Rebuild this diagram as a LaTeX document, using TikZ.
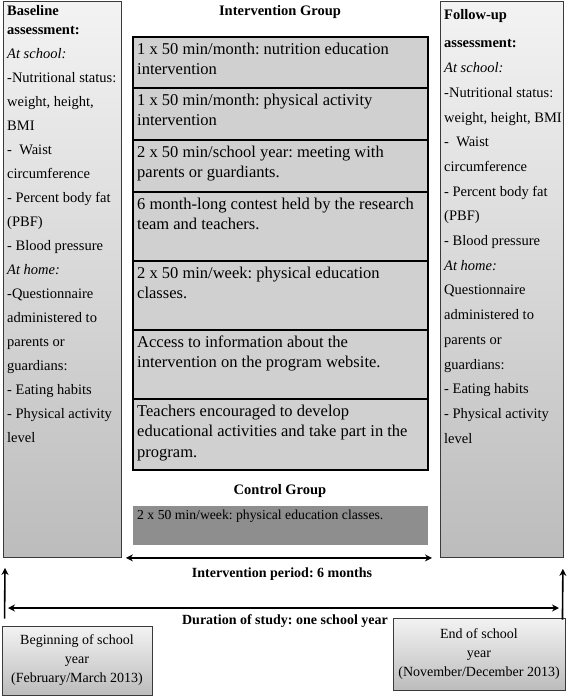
\documentclass[tikz,border=0pt]{standalone}
\usepackage{fontspec}
\setmainfont{Liberation Serif}
\usetikzlibrary{arrows.meta}
\definecolor{rowfill}{HTML}{D0D0D0}
\definecolor{ctrlfill}{HTML}{8E8E8E}
\definecolor{sidetop}{HTML}{F3F3F3}
\definecolor{sidebot}{HTML}{BCBCBC}
\definecolor{sideline}{HTML}{3A3A3A}

\begin{document}
\frenchspacing
\begin{tikzpicture}[x=1pt, y=-1pt,
  side/.style={draw=sideline, line width=0.9pt, top color=sidetop, bottom color=sidebot,
    anchor=north west, minimum width=118pt, minimum height=556pt, inner sep=0pt},
  sidetext/.style={anchor=north west, align=left, inner sep=4pt,
    font=\fontsize{14.5}{24}\selectfont},
  rowbox/.style={draw=black, line width=1.1pt, fill=rowfill},
  rowtext/.style={anchor=north west, align=left, inner xsep=4pt, inner ysep=5.5pt,
    font=\fontsize{16.5}{20.5}\selectfont},
  datebox/.style={draw=sideline, line width=0.9pt, top color=sidetop, bottom color=sidebot,
    align=center, inner sep=2pt, font=\fontsize{14}{19}\selectfont},
  head/.style={font=\fontsize{14}{15}\selectfont\bfseries},
  span/.style={{Stealth[length=7pt,width=7pt]}-{Stealth[length=7pt,width=7pt]}, line width=1.6pt},
  up/.style={-{Stealth[length=7pt,width=7pt]}, line width=1.6pt}]
\useasboundingbox (0,0) rectangle (567,697);
\newcommand{\introw}[4]{%
  \draw[rowbox] (133,#2) rectangle (428,#3);
  \node[rowtext] (#1) at (133,#2) {#4};}
% assessment columns
\node[side] (base) at (3,1) {};
\node[sidetext] (basetxt) at (base.north west) {\textbf{Baseline}\\[-5pt]
  \textbf{assessment:}\\ \textit{At school:}\\ -Nutritional status:\\ weight, height,\\ BMI\\
  -\ \ Waist\\ circumference\\ - Percent body fat\\ (PBF)\\ - Blood pressure\\
  \textit{At home:}\\ -Questionnaire\\ administered to\\ parents or\\ guardians:\\
  - Eating habits\\ - Physical activity\\ level};
\node[side, minimum width=123pt] (follow) at (440,1) {};
\node[sidetext, font=\fontsize{14.5}{24.7}\selectfont] (followtxt) at ([yshift=-4pt]follow.north west)
  {\textbf{Follow-up}\\[4pt] \textbf{assessment:}\\ \textit{At school:}\\ -Nutritional status:\\
  weight, height, BMI\\ -\ \ Waist\\ circumference\\ - Percent body fat\\ (PBF)\\
  - Blood pressure\\ \textit{At home:}\\ Questionnaire\\ administered to\\ parents or\\
  guardians:\\ - Eating habits\\ - Physical activity\\ level};
% intervention group
\node[head, font=\fontsize{14.5}{15}\selectfont\bfseries] (intgrp) at (280,12) {Intervention Group};
\introw{nutr}{37}{88}{1 x 50 min/month: nutrition education\\ intervention}
\introw{phys}{88}{140}{1 x 50 min/month: physical activity\\ intervention}
\introw{meet}{140}{192}{2 x 50 min/school year: meeting with\\ parents or guardiants.}
\introw{contest}{192}{261}{6 month-long contest held by the research\\ team and teachers.}
\introw{pe}{261}{330}{2 x 50 min/week: physical education\\ classes.}
\introw{web}{330}{399}{Access to information about the\\ intervention on the program website.}
\introw{teach}{399}{470}{Teachers encouraged to develop\\ educational activities and take part in the\\ program.}
% control group
\node[head, font=\fontsize{14.5}{15}\selectfont\bfseries] (ctrlgrp) at (280,491) {Control Group};
\fill[ctrlfill] (133,506) rectangle (428,545);
\node[rowtext, inner ysep=4pt, font=\fontsize{13.7}{18}\selectfont] (ctrl) at (133,506)
  {2 x 50 min/week: physical education classes.};
% time line
\draw[span] ([xshift=4pt]base.south east) -- ([xshift=-8pt]follow.south west);
\node[head] (period) at (282,574) {Intervention period: 6 months};
\node[datebox, minimum width=150pt, minimum height=69pt] (start) at (77,660.5)
  {Beginning of school\\ year\\ (February/March 2013)};
\node[datebox, minimum width=172pt, minimum height=72pt] (finish) at (479,654)
  {End of school\\ year\\ (November/December 2013)};
\draw[up] ([xshift=3pt,yshift=7pt]start.north west) -- ([xshift=2pt,yshift=-10pt]base.south west);
\draw[up] ([xshift=-3pt,yshift=-2pt]finish.north east) -- ([xshift=-1pt,yshift=-11pt]follow.south east);
\coordinate (durL) at (8,608);
\coordinate (durR) at (559,608);
\draw[span] (durL) -- (durR);
\node[head] (duration) at (285,621) {Duration of study: one school year};
\end{tikzpicture}
\end{document}
